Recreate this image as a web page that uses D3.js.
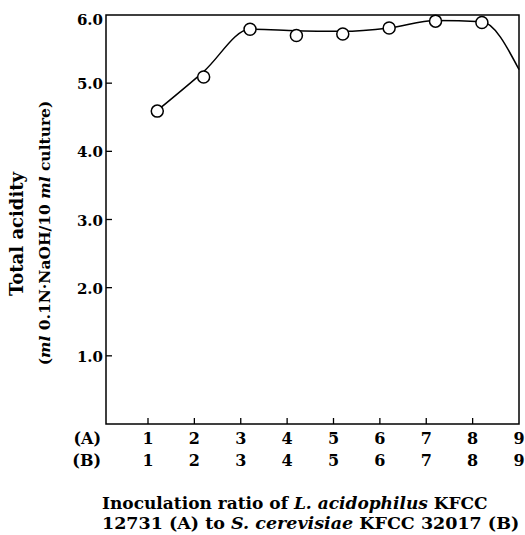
<!DOCTYPE html>
<html>
<head>
<meta charset="utf-8">
<script src="https://d3js.org/d3.v7.min.js"></script>
<style>
  body { margin: 0; background: #fff; }
  text { font-family: "DejaVu Serif", serif; font-weight: bold; fill: #000; }
</style>
</head>
<body>
<div id="chart"></div>
<script>
// data
const ratioTicks = [1, 2, 3, 4, 5, 6, 7, 8, 9];
const acidityTicks = [1, 2, 3, 4, 5, 6];
const pointX = [1.2, 2.2, 3.2, 4.2, 5.2, 6.2, 7.2, 8.2];
const pointY = [4.59, 5.09, 5.79, 5.70, 5.72, 5.81, 5.91, 5.89];
// smooth hand-drawn curve through the points (ends at the right frame)
const curveX = [1.2, 2.2, 3.2, 4.2, 5.2, 6.2, 7.2, 8.2, 9.0];
const curveY = [4.6, 5.17, 5.79, 5.77, 5.76, 5.81, 5.92, 5.9, 5.2];

const width = 525;
const height = 535;

const svg = d3.select("#chart")
    .append("svg")
    .attr("width", width)
    .attr("height", height)
    .style("display", "block");

// scales
const x = d3.scaleLinear().domain([1, 9]).range([148, 519]);
const y = d3.scaleLinear().domain([0, 6]).range([424, 15]);

const frameLeft = 106;
const frameRight = x(9);
const frameTop = y(6);
const frameBottom = y(0);

// frame
svg.append("rect")
    .attr("x", frameLeft)
    .attr("y", frameTop)
    .attr("width", frameRight - frameLeft)
    .attr("height", frameBottom - frameTop)
    .attr("fill", "none")
    .attr("stroke", "#000")
    .attr("stroke-width", 1.5);

// y ticks (inside) and labels
svg.selectAll("line.ytick")
    .data(acidityTicks.filter(d => d < 6))
    .enter().append("line")
    .attr("class", "ytick")
    .attr("x1", frameLeft)
    .attr("x2", frameLeft + 6)
    .attr("y1", d => y(d))
    .attr("y2", d => y(d))
    .attr("stroke", "#000")
    .attr("stroke-width", 1.3);

svg.selectAll("text.ylab")
    .data(acidityTicks)
    .enter().append("text")
    .attr("class", "ylab")
    .attr("x", frameLeft - 3)
    .attr("y", d => y(d) + (d === 6 ? 10 : 6))
    .attr("text-anchor", "end")
    .style("font-size", "15px")
    .text(d => d.toFixed(1));

// x ticks (pointing up)
svg.selectAll("line.xtick")
    .data(ratioTicks.filter(d => d < 9))
    .enter().append("line")
    .attr("class", "xtick")
    .attr("x1", d => x(d))
    .attr("x2", d => x(d))
    .attr("y1", frameBottom)
    .attr("y2", frameBottom - 6)
    .attr("stroke", "#000")
    .attr("stroke-width", 1.3);

// two rows of ratio labels
const rows = [{ name: "(A)", y: 444 }, { name: "(B)", y: 466 }];
rows.forEach(function (r) {
    svg.append("text")
        .attr("x", 101)
        .attr("y", r.y)
        .attr("text-anchor", "end")
        .style("font-size", "16px")
        .text(r.name);
    svg.selectAll(null)
        .data(ratioTicks)
        .enter().append("text")
        .attr("x", d => x(d))
        .attr("y", r.y)
        .attr("text-anchor", "middle")
        .style("font-size", "16px")
        .text(d => d);
});

// curve
const line = d3.line()
    .x(d => x(d[0]))
    .y(d => y(d[1]))
    .curve(d3.curveMonotoneX);

svg.append("path")
    .datum(d3.zip(curveX, curveY))
    .attr("d", line)
    .attr("fill", "none")
    .attr("stroke", "#000")
    .attr("stroke-width", 1.5);

// open circle markers
svg.selectAll("circle")
    .data(d3.zip(pointX, pointY))
    .enter().append("circle")
    .attr("cx", d => x(d[0]))
    .attr("cy", d => y(d[1]))
    .attr("r", 6)
    .attr("fill", "#fff")
    .attr("stroke", "#000")
    .attr("stroke-width", 1.5);

// y axis title (two lines, rotated)
svg.append("text")
    .attr("transform", "translate(23,234) rotate(-90)")
    .attr("text-anchor", "middle")
    .style("font-size", "18px")
    .text("Total acidity");

const yTitle2 = svg.append("text")
    .attr("transform", "translate(50,233) rotate(-90)")
    .attr("text-anchor", "middle")
    .style("font-size", "15.5px");
yTitle2.append("tspan").text("(");
yTitle2.append("tspan").style("font-style", "italic").text("ml");
yTitle2.append("tspan").text(" 0.1N·NaOH/10 ");
yTitle2.append("tspan").style("font-style", "italic").text("ml");
yTitle2.append("tspan").text(" culture)");

// x axis title
const xt1 = svg.append("text")
    .attr("x", 102)
    .attr("y", 509)
    .style("font-size", "17px");
xt1.append("tspan").text("Inoculation ratio of ");
xt1.append("tspan").style("font-style", "italic").text("L. acidophilus");
xt1.append("tspan").text(" KFCC");

const xt2 = svg.append("text")
    .attr("x", 102)
    .attr("y", 529)
    .style("font-size", "17.5px");
xt2.append("tspan").text("12731 (A) to ");
xt2.append("tspan").style("font-style", "italic").text("S. cerevisiae");
xt2.append("tspan").text(" KFCC 32017 (B)");
</script>
</body>
</html>
